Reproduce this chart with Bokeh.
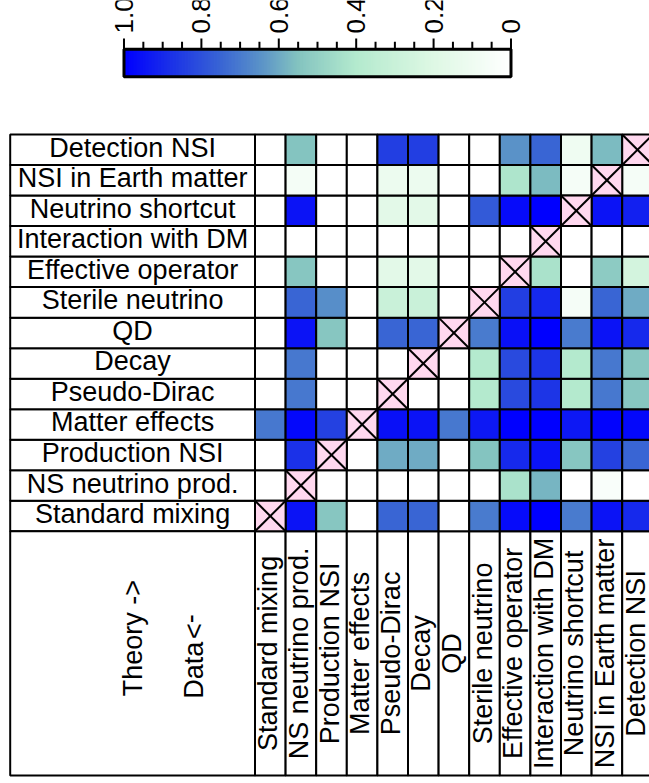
import numpy as np
from bokeh.plotting import figure
from bokeh.models import Range1d, LinearColorMapper, ColumnDataSource
from bokeh.transform import transform
from bokeh.layouts import column
from bokeh.embed import file_html
from bokeh.resources import INLINE
from bokeh.core.properties import value

# ---------------- data ----------------
models = ["Standard mixing", "NS neutrino prod.", "Production NSI", "Matter effects",
          "Pseudo-Dirac", "Decay", "QD", "Sterile neutrino", "Effective operator",
          "Interaction with DM", "Neutrino shortcut", "NSI in Earth matter", "Detection NSI"]

X = None  # diagonal (model tested against itself)
# one list per data model (row), values per theory model (column), same order as `models`
standard_mixing     = [X, 0.95, 0.54, 0.00, 0.75, 0.75, 0.00, 0.70, 0.97, 1.00, 0.70, 0.95, 0.90]
ns_neutrino_prod    = [0.00, X, 0.00, 0.00, 0.00, 0.00, 0.00, 0.00, 0.43, 0.58, 0.00, 0.04, 0.00]
production_nsi      = [0.00, 0.88, X, 0.00, 0.60, 0.60, 0.00, 0.55, 0.90, 0.95, 0.54, 0.84, 0.75]
matter_effects      = [0.71, 0.98, 0.84, X, 0.96, 0.95, 0.71, 0.94, 1.00, 1.00, 0.94, 0.99, 0.98]
pseudo_dirac        = [0.00, 0.71, 0.00, 0.00, X, 0.00, 0.00, 0.40, 0.82, 0.87, 0.40, 0.71, 0.54]
decay               = [0.00, 0.71, 0.00, 0.00, 0.00, X, 0.00, 0.40, 0.82, 0.87, 0.40, 0.71, 0.54]
qd                  = [0.00, 0.95, 0.54, 0.00, 0.75, 0.75, X, 0.70, 0.96, 1.00, 0.70, 0.95, 0.90]
sterile_neutrino    = [0.00, 0.75, 0.66, 0.00, 0.30, 0.30, 0.00, X, 0.85, 0.90, 0.06, 0.75, 0.60]
effective_operator  = [0.00, 0.54, 0.00, 0.00, 0.17, 0.17, 0.00, 0.00, X, 0.43, 0.00, 0.52, 0.25]
interaction_with_dm = [0.00, 0.00, 0.00, 0.00, 0.00, 0.00, 0.00, 0.00, 0.00, X, 0.00, 0.00, 0.00]
neutrino_shortcut   = [0.00, 0.95, 0.00, 0.00, 0.17, 0.17, 0.00, 0.78, 0.97, 1.00, X, 0.95, 0.92]
nsi_in_earth_matter = [0.00, 0.07, 0.00, 0.00, 0.12, 0.12, 0.00, 0.00, 0.42, 0.57, 0.06, X, 0.06]
detection_nsi       = [0.00, 0.55, 0.00, 0.00, 0.85, 0.85, 0.00, 0.00, 0.65, 0.75, 0.10, 0.57, X]

rows = [standard_mixing, ns_neutrino_prod, production_nsi, matter_effects, pseudo_dirac,
        decay, qd, sterile_neutrino, effective_operator, interaction_with_dm,
        neutrino_shortcut, nsi_in_earth_matter, detection_nsi]

cbar_ticks = [1.0, 0.8, 0.6, 0.4, 0.2, 0.0]
cbar_tick_labels = ["1.0", "0.8", "0.6", "0.4", "0.2", "0"]
cbar_minor = [0.95, 0.9, 0.85, 0.75, 0.7, 0.65, 0.55, 0.5, 0.45, 0.35, 0.3, 0.25, 0.15, 0.1, 0.05]

# ---------------- colour map ----------------
stops = [(0.0, (255, 255, 255)), (0.2, (222, 248, 228)), (0.4, (180, 234, 206)),
         (0.55, (132, 196, 192)), (0.65, (90, 146, 200)), (0.75, (58, 102, 212)),
         (0.85, (34, 62, 226)), (1.0, (0, 0, 255))]
sv = np.array([s[0] for s in stops])
sc = np.array([s[1] for s in stops], dtype=float)
grid_v = np.linspace(0, 1, 256)
palette = []
for gv in grid_v:
    r = np.interp(gv, sv, sc[:, 0]); g = np.interp(gv, sv, sc[:, 1]); b = np.interp(gv, sv, sc[:, 2])
    palette.append("#%02x%02x%02x" % (int(round(r)), int(round(g)), int(round(b))))
mapper = LinearColorMapper(palette=palette, low=0, high=1)

FONT = value("Liberation Sans")
n = len(models)

# ---------------- colour bar figure ----------------
cb = figure(width=649, height=100, x_range=Range1d(1.3191, -0.3579), y_range=Range1d(-0.8618, 2.7745),
            x_axis_location=None, y_axis_location=None, min_border=0,
            output_backend="svg", toolbar_location=None)
cb.grid.visible = False
cb.outline_line_color = None
step = 1.0 / len(palette)
cb.rect(x=(np.arange(len(palette)) + 0.5) * step, y=0.5, width=step * 1.6, height=1,
        fill_color=palette, line_color=None)
cb.rect(x=0.5, y=0.5, width=1, height=1, fill_color=None, line_color="black", line_width=3)
cb.segment(x0=cbar_ticks, y0=[1] * len(cbar_ticks), x1=cbar_ticks, y1=[1.393] * len(cbar_ticks),
           line_color="black", line_width=2)
cb.segment(x0=cbar_minor, y0=[1] * len(cbar_minor), x1=cbar_minor, y1=[1.27] * len(cbar_minor),
           line_color="black", line_width=2)
cb.text(x=cbar_ticks, y=[1.575] * len(cbar_ticks), text=cbar_tick_labels, angle=np.pi / 2,
        text_align="left", text_baseline="middle", text_font=FONT, text_font_size="26px",
        text_color="black")

# ---------------- matrix figure ----------------
p = figure(width=649, height=683, x_range=Range1d(-8.317, 12.892), y_range=Range1d(-8.262, 14.114),
           x_axis_location=None, y_axis_location=None, min_border=0,
           output_backend="svg", toolbar_location=None)
p.grid.visible = False
p.outline_line_color = None

cx, cy, cv, dx, dy = [], [], [], [], []
for j, row in enumerate(rows):
    for i, v in enumerate(row):
        if v is None:
            dx.append(i + 0.5); dy.append(j + 0.5)
        else:
            cx.append(i + 0.5); cy.append(j + 0.5); cv.append(v)
src = ColumnDataSource(dict(x=cx, y=cy, v=cv))

# label cells
idx = np.arange(n)
p.rect(x=[-4] * n, y=idx + 0.5, width=8, height=1, fill_color="white", line_color="black", line_width=2)
p.rect(x=idx + 0.5, y=[-4] * n, width=1, height=8, fill_color="white", line_color="black", line_width=2)
p.rect(x=[-4], y=[-4], width=8, height=8, fill_color="white", line_color="black", line_width=2)

# heat cells
p.rect(x="x", y="y", width=1, height=1, source=src, fill_color=transform("v", mapper),
       line_color="black", line_width=2)
# diagonal cells
dxa = np.array(dx); dya = np.array(dy)
p.rect(x=dx, y=dy, width=1, height=1, fill_color="#ffd8ef", line_color="black", line_width=2)
p.segment(x0=dxa - 0.5, y0=dya - 0.5, x1=dxa + 0.5, y1=dya + 0.5, line_color="black", line_width=2)
p.segment(x0=dxa - 0.5, y0=dya + 0.5, x1=dxa + 0.5, y1=dya - 0.5, line_color="black", line_width=2)

# texts
p.text(x=[-4] * n, y=idx + 0.5, text=models, text_align="center", text_baseline="middle",
       text_font=FONT, text_font_size="27px", text_color="black", y_offset=-2)
p.text(x=idx + 0.5, y=[-4] * n, text=models, angle=np.pi / 2, text_align="center",
       text_baseline="middle", text_font=FONT, text_font_size="27px", text_color="black", x_offset=-2)
p.text(x=[-4], y=[-3.5], text=["Theory ->"], angle=np.pi / 2, text_align="center",
       text_baseline="middle", text_font=FONT, text_font_size="27px", text_color="black")
p.text(x=[-2], y=[-4.55], text=["Data"], angle=np.pi / 2, text_align="center",
       text_baseline="middle", text_font=FONT, text_font_size="27px", text_color="black")
p.text(x=[-2], y=[-3.12], text=["->"], angle=-np.pi / 2, text_align="center",
       text_baseline="middle", text_font=FONT, text_font_size="27px", text_color="black")

layout = column(cb, p, spacing=0)
open("out.html", "w").write(file_html(layout, INLINE))
